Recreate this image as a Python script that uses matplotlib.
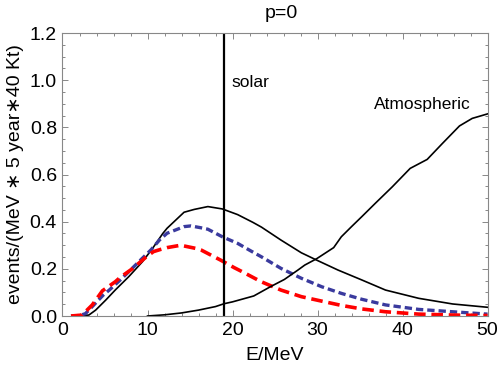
import matplotlib
matplotlib.use("Agg")
import matplotlib.pyplot as plt
from matplotlib.ticker import MultipleLocator

plt.rcParams['font.family'] = ['Liberation Sans', 'DejaVu Sans']

# total signal (black solid)
e_sig = [1.1, 2.0, 3.1, 3.9, 5.1, 6.2, 7.8, 9.4, 10.6, 11.8, 12.3, 14.3, 15.5,
         17.1, 18.8, 20.6, 22.4, 23.4, 25.7, 28.1, 29.9, 32.4, 35.2, 38.0, 41.9,
         45.9, 50.0]
v_sig = [0.0, 0.001, 0.004, 0.025, 0.068, 0.11, 0.167, 0.23, 0.287, 0.35, 0.372,
         0.44, 0.452, 0.464, 0.454, 0.43, 0.397, 0.377, 0.322, 0.268, 0.237,
         0.195, 0.153, 0.110, 0.075, 0.051, 0.037]

# blue dashed
e_blue = [1.0, 2.0, 2.7, 3.5, 4.8, 5.5, 6.8, 7.8, 9.4, 10.4, 11.4, 12.3, 13.1,
          14.3, 15.1, 16.3, 17.1, 18.8, 20.6, 22.2, 23.4, 25.7, 28.1, 30.5, 32.8,
          35.2, 38.0, 41.9, 45.9, 50.0]
v_blue = [0.0, 0.002, 0.01, 0.04, 0.089, 0.11, 0.153, 0.188, 0.245, 0.28, 0.322,
          0.351, 0.362, 0.379, 0.382, 0.374, 0.368, 0.336, 0.308, 0.275, 0.251,
          0.202, 0.16, 0.124, 0.096, 0.071, 0.047, 0.028, 0.018, 0.008]

# red dashed
e_red = [1.0, 2.3, 3.5, 4.7, 6.2, 6.8, 8.2, 9.8, 10.7, 11.6, 12.3, 13.9, 15.9,
         16.3, 18.6, 20.2, 21.4, 22.6, 23.4, 25.7, 28.1, 30.5, 32.8, 35.2, 38.0,
         41.9, 45.9, 50.0]
v_red = [0.0, 0.004, 0.047, 0.107, 0.145, 0.164, 0.2, 0.249, 0.273, 0.283, 0.29,
         0.30, 0.285, 0.28, 0.237, 0.205, 0.183, 0.16, 0.145, 0.11, 0.082, 0.063,
         0.045, 0.03, 0.018, 0.008, 0.004, 0.002]

# atmospheric background
e_atm = [10, 12, 14, 16, 18, 19, 20, 21, 22.5, 23.4, 24.5, 26.1, 27.7, 28.5,
         29.9, 31.9, 32.8, 34.0, 35.2, 36.8, 38.8, 40.9, 42.9, 44.7, 46.7, 48.2,
         50.0]
v_atm = [0.0, 0.005, 0.013, 0.025, 0.04, 0.052, 0.06, 0.07, 0.085, 0.103, 0.125,
         0.155, 0.195, 0.216, 0.243, 0.29, 0.336, 0.379, 0.421, 0.478, 0.548,
         0.626, 0.664, 0.732, 0.806, 0.838, 0.857]

solar_e = 19.0

fig = plt.figure(figsize=(4.98, 3.73), dpi=100)
ax = fig.add_axes([0.1255, 0.1528, 0.8535, 0.7587])

ax.plot(e_sig, v_sig, color='black', linewidth=1.2)
ax.plot(e_blue, v_blue, color='#3a3a9e', linewidth=2.4, dashes=(2.2, 1.2))
ax.plot(e_red, v_red, color='#ff0000', linewidth=2.6, dashes=(3.2, 1.6))
ax.plot(e_atm, v_atm, color='black', linewidth=1.2)
ax.axvline(solar_e, color='black', linewidth=1.6)

ax.text(19.9, 0.99, 'solar', fontsize=12.5, va='center', ha='left')
ax.text(36.6, 0.895, 'Atmospheric', fontsize=12.5, va='center', ha='left')

ax.set_xlim(0, 50)
ax.set_ylim(0, 1.2)
ax.xaxis.set_major_locator(MultipleLocator(10))
ax.xaxis.set_minor_locator(MultipleLocator(2))
ax.yaxis.set_major_locator(MultipleLocator(0.2))
ax.yaxis.set_minor_locator(MultipleLocator(0.05))
ax.yaxis.set_major_formatter(plt.FuncFormatter(lambda v, p: f'{v:.1f}'))

for s in ax.spines.values():
    s.set_color('#888888')
    s.set_linewidth(0.8)
ax.tick_params(which='both', direction='in', top=True, right=True,
               color='#888888', labelsize=14, width=0.7)
ax.tick_params(which='major', length=4, pad=4)
ax.tick_params(which='minor', length=2.5)

ax.set_xlabel('E/MeV', fontsize=14, labelpad=6)
ax.set_ylabel('events/(MeV \u2217 5 year\u221740 Kt)', fontsize=14, labelpad=4)
fig.text(281 / 498, 1 - 14 / 373, 'p=0', fontsize=14, ha='center', va='center')

fig.savefig('out.png', dpi=100)
